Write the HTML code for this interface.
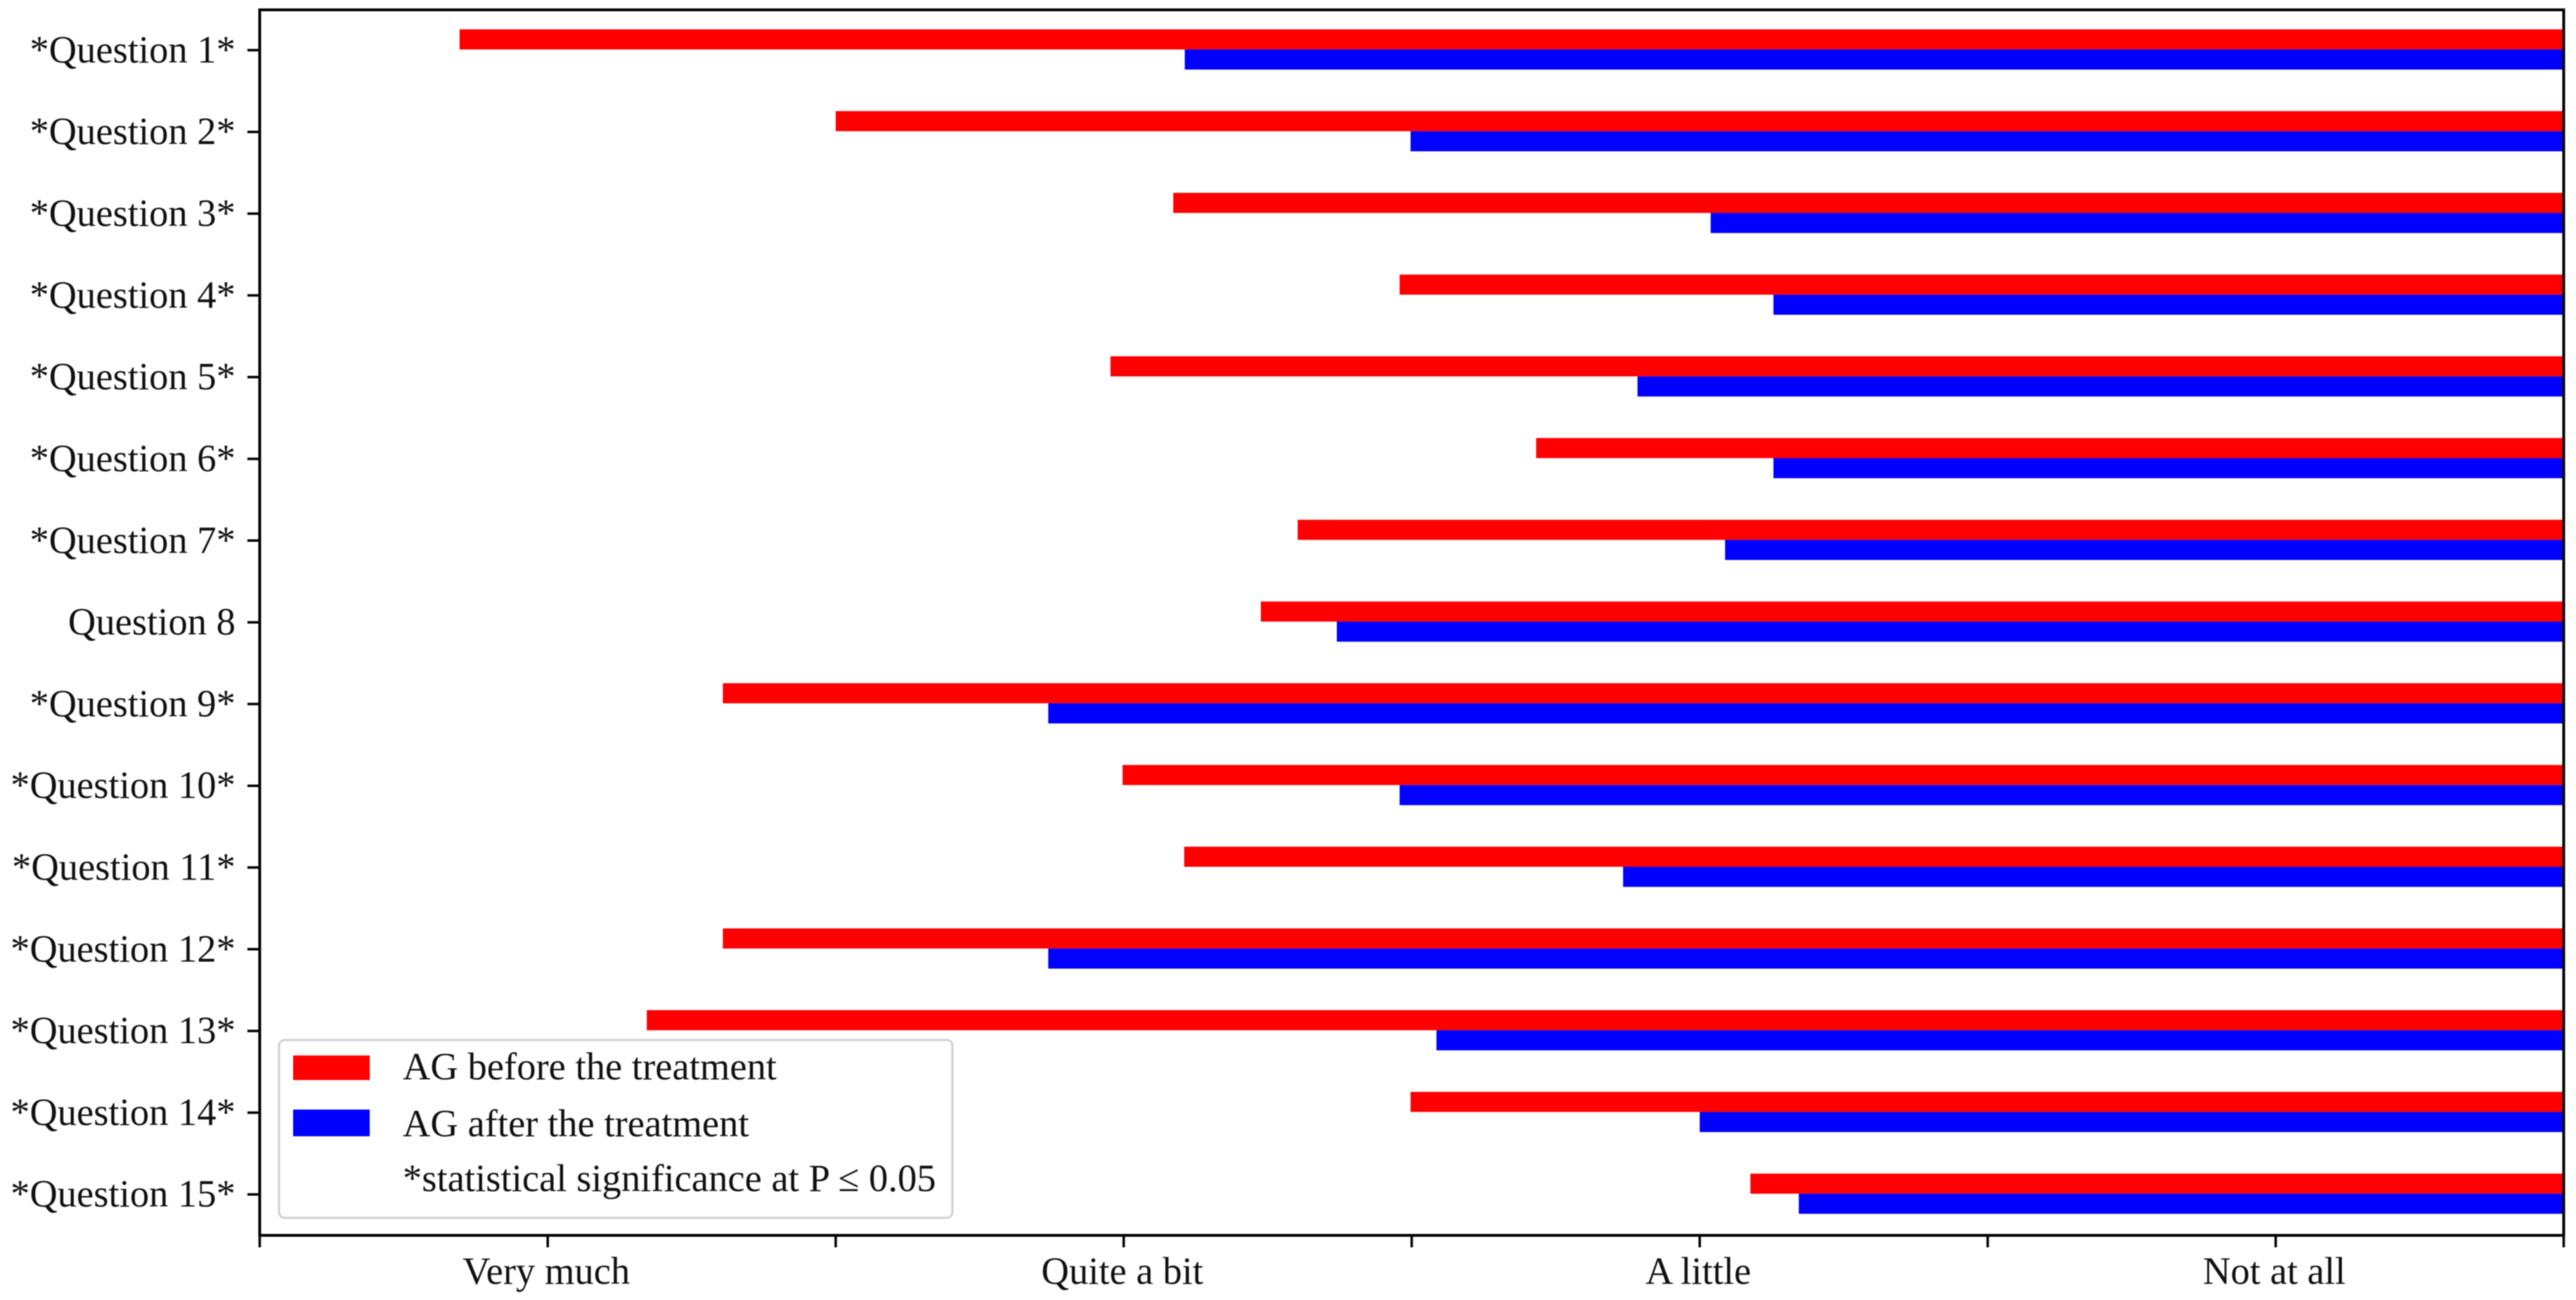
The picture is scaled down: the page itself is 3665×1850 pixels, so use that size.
<!DOCTYPE html>
<html lang="en">
<head>
<meta charset="utf-8">
<title>AG before and after treatment</title>
<style>
  html, body { margin: 0; padding: 0; background: #fff; }
  body { width: 3665px; height: 1850px; overflow: hidden; }
  svg { display: block; filter: blur(0.7px); }
  text { font-family: "Liberation Serif", "DejaVu Serif", serif; font-size: 54.6px; fill: #111; }
</style>
</head>
<body>
<svg id="chart" xmlns="http://www.w3.org/2000/svg" width="3665" height="1850" viewBox="0 0 3665 1850">
  <rect x="0" y="0" width="3665" height="1850" fill="#fff"/>
  <g id="bars"></g>
  <g id="yaxis"></g>
  <g id="xaxis"></g>
  <rect x="369.5" y="14" width="3278" height="1744" fill="none" stroke="#000" stroke-width="4"/>
  <g>
    <rect x="397" y="1480" width="958" height="253" rx="8" ry="8" fill="#fff" stroke="#d0d0d0" stroke-width="3"/>
    <rect x="417" y="1502" width="109" height="35" fill="#ff0000"/>
    <text x="573" y="1536">AG before the treatment</text>
    <rect x="417" y="1579" width="109" height="38" fill="#0000ff"/>
    <text x="573" y="1617">AG after the treatment</text>
    <text x="573" y="1695">*statistical significance at P ≤ 0.05</text>
  </g>
</svg>
<script>
const questions = ["*Question 1*", "*Question 2*", "*Question 3*", "*Question 4*", "*Question 5*", "*Question 6*", "*Question 7*", "Question 8", "*Question 9*", "*Question 10*", "*Question 11*", "*Question 12*", "*Question 13*", "*Question 14*", "*Question 15*"];
const beforeTreatment = [0.347, 1.000, 1.586, 1.979, 1.477, 2.216, 1.802, 1.738, 0.804, 1.498, 1.605, 0.804, 0.672, 1.998, 2.588];
const afterTreatment = [1.606, 1.998, 2.519, 2.628, 2.392, 2.628, 2.544, 1.870, 1.369, 1.979, 2.367, 1.369, 2.043, 2.500, 2.672];
const xTickValues = [0, 0.5, 1, 1.5, 2, 2.5, 3, 3.5, 4];
const xLabelValues = [0.5, 1.5, 2.5, 3.5];
const xLabels = ["Very much", "Quite a bit", "A little", "Not at all"];
const xDomainMax = 4;

const NS = "http://www.w3.org/2000/svg";
const plotLeft = 369.5, plotRight = 3647.5, plotBottom = 1758;
const rowStart = 70.4, rowStep = 116.31, barHeight = 28.6;

function xScale(v) { return plotLeft + (v / xDomainMax) * (plotRight - plotLeft); }
function yScale(i) { return rowStart + i * rowStep; }
function make(tag, attrs, parent) {
  const el = document.createElementNS(NS, tag);
  for (const k in attrs) el.setAttribute(k, attrs[k]);
  parent.appendChild(el);
  return el;
}

const barsG = document.getElementById("bars");
const yG = document.getElementById("yaxis");
const xG = document.getElementById("xaxis");

questions.forEach(function (label, i) {
  const c = yScale(i);
  const red = make("rect", { x: xScale(beforeTreatment[i]), y: c - barHeight, width: xScale(xDomainMax) - xScale(beforeTreatment[i]), height: barHeight, fill: "#ff0000" }, barsG);
  
  
  const blue = make("rect", { x: xScale(afterTreatment[i]), y: c, width: xScale(xDomainMax) - xScale(afterTreatment[i]), height: barHeight, fill: "#0000ff" }, barsG);
  
  
  const tick = make("line", { x1: 352, x2: plotLeft, y1: c + 1, y2: c + 1, stroke: "#000", "stroke-width": 3.5 }, yG);
  
  
  const t = make("text", { x: 335, y: c + 18.5, "text-anchor": "end" }, yG);
  
  
  t.textContent = label;
});

xTickValues.forEach(function (v) {
  const tick = make("line", { x1: xScale(v), x2: xScale(v), y1: plotBottom, y2: 1775, stroke: "#000", "stroke-width": 3.5 }, xG);
  
  
});

xLabelValues.forEach(function (v, i) {
  const t = make("text", { x: xScale(v) - 2, y: 1827, "text-anchor": "middle" }, xG);
  
  
  t.textContent = xLabels[i];
});
</script>
</body>
</html>
